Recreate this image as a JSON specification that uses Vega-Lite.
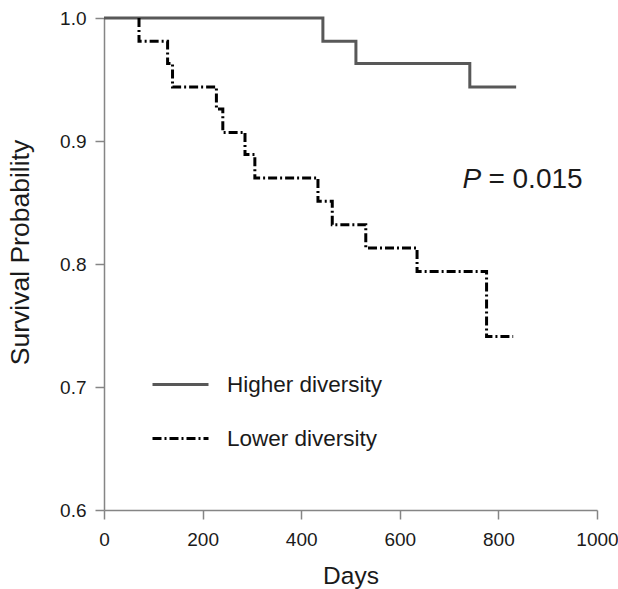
{
  "$schema": "https://vega.github.io/schema/vega-lite/v6.json",
  "width": 493,
  "height": 492,
  "autosize": {"type": "none"},
  "padding": {"left": 104, "top": 18, "right": 21, "bottom": 79},
  "background": "white",
  "config": {
    "view": {"stroke": null},
    "font": "Liberation Sans",
    "axis": {
      "grid": false,
      "domainColor": "#858585",
      "tickColor": "#858585",
      "domainWidth": 1.5,
      "tickWidth": 1.5,
      "tickSize": 9,
      "labelFlush": false,
      "labelFont": "Liberation Sans",
      "labelFontSize": 19,
      "labelColor": "#1a1a1a",
      "titleFont": "Liberation Sans",
      "titleFontWeight": "normal",
      "titleColor": "#1a1a1a"
    }
  },
  "datasets": {
    "km": [
      {"group": "Higher diversity", "day": 0, "surv": 1.0},
      {"group": "Higher diversity", "day": 444, "surv": 0.981},
      {"group": "Higher diversity", "day": 511, "surv": 0.963},
      {"group": "Higher diversity", "day": 742, "surv": 0.944},
      {"group": "Higher diversity", "day": 836, "surv": 0.944},
      {"group": "Lower diversity", "day": 71, "surv": 1.0},
      {"group": "Lower diversity", "day": 71, "surv": 0.981},
      {"group": "Lower diversity", "day": 129, "surv": 0.963},
      {"group": "Lower diversity", "day": 139, "surv": 0.944},
      {"group": "Lower diversity", "day": 228, "surv": 0.926},
      {"group": "Lower diversity", "day": 241, "surv": 0.907},
      {"group": "Lower diversity", "day": 286, "surv": 0.889},
      {"group": "Lower diversity", "day": 306, "surv": 0.870},
      {"group": "Lower diversity", "day": 434, "surv": 0.851},
      {"group": "Lower diversity", "day": 463, "surv": 0.832},
      {"group": "Lower diversity", "day": 531, "surv": 0.813},
      {"group": "Lower diversity", "day": 635, "surv": 0.794},
      {"group": "Lower diversity", "day": 776, "surv": 0.741},
      {"group": "Lower diversity", "day": 830, "surv": 0.741}
    ],
    "note": [
      {"day": 727, "surv": 0.868, "p": "P", "rest": "= 0.015"}
    ]
  },
  "layer": [
    {
      "data": {"name": "km"},
      "mark": {"type": "line", "interpolate": "step-after", "strokeWidth": 3, "strokeCap": "butt"},
      "encoding": {
        "x": {
          "field": "day", "type": "quantitative",
          "scale": {"domain": [0, 1000], "nice": false},
          "axis": {"values": [0, 200, 400, 600, 800, 1000], "format": "d", "title": "Days", "titleFontSize": 24.5, "labelPadding": 11, "titlePadding": 15}
        },
        "y": {
          "field": "surv", "type": "quantitative",
          "scale": {"domain": [0.6, 1.0], "nice": false, "zero": false},
          "axis": {"values": [0.6, 0.7, 0.8, 0.9, 1.0], "format": ".1f", "title": "Survival Probability", "titleFontSize": 26.5, "titleY": 234, "labelPadding": 9, "titlePadding": 25}
        },
        "color": {
          "field": "group", "type": "nominal",
          "scale": {"domain": ["Higher diversity", "Lower diversity"], "range": ["#585858", "#000000"]},
          "legend": {
            "title": null,
            "orient": "none",
            "legendX": 47,
            "legendY": 337,
            "symbolType": "stroke",
            "symbolSize": 3136,
            "symbolStrokeWidth": 3,
            "labelFontSize": 22.5,
            "labelColor": "#1a1a1a",
            "labelOffset": 17,
            "rowPadding": 13,
            "labelFont": "Liberation Sans"
          }
        },
        "strokeDash": {
          "field": "group", "type": "nominal",
          "scale": {"domain": ["Higher diversity", "Lower diversity"], "range": [[1, 0], [9, 3, 2, 3]]},
          "legend": {
            "title": null,
            "orient": "none",
            "legendX": 47,
            "legendY": 337,
            "symbolType": "stroke",
            "symbolSize": 3136,
            "symbolStrokeWidth": 3,
            "labelFontSize": 22.5,
            "labelColor": "#1a1a1a",
            "labelOffset": 17,
            "rowPadding": 13,
            "labelFont": "Liberation Sans"
          }
        },
        "order": {"field": "day", "type": "quantitative"}
      }
    },
    {
      "data": {"name": "note"},
      "mark": {"type": "text", "fontSize": 28, "fontStyle": "italic", "align": "left", "baseline": "middle", "color": "#1a1a1a"},
      "encoding": {
        "x": {"field": "day", "type": "quantitative"},
        "y": {"field": "surv", "type": "quantitative"},
        "text": {"field": "p"}
      }
    },
    {
      "data": {"name": "note"},
      "mark": {"type": "text", "fontSize": 28, "align": "left", "baseline": "middle", "dx": 26, "color": "#1a1a1a"},
      "encoding": {
        "x": {"field": "day", "type": "quantitative"},
        "y": {"field": "surv", "type": "quantitative"},
        "text": {"field": "rest"}
      }
    }
  ]
}
